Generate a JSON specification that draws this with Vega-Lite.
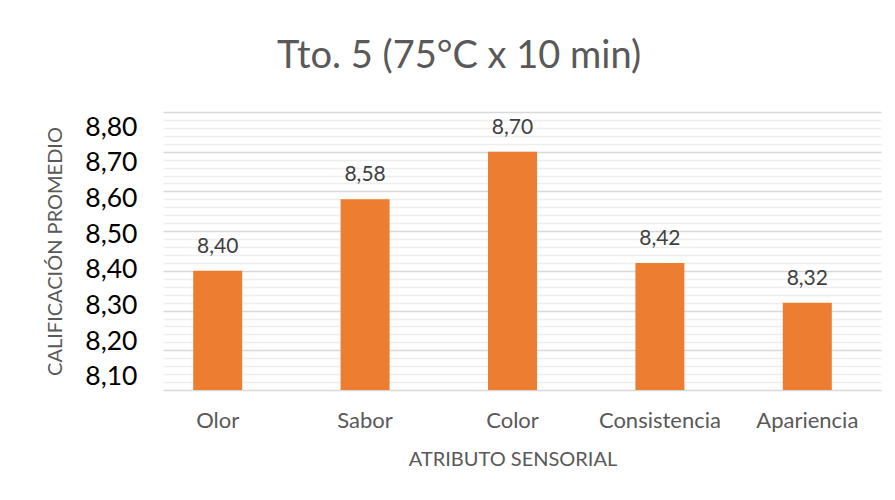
{
  "$schema": "https://vega.github.io/schema/vega-lite/v6.json",
  "width": 718,
  "height": 278,
  "autosize": {"type": "none"},
  "padding": {"left": 163, "top": 112, "right": 14, "bottom": 110},
  "background": "white",
  "config": {
    "font": "Lato",
    "view": {"stroke": null},
    "locale": {"number": {"decimal": ",", "thousands": ".", "grouping": [3], "currency": ["", " €"]}}
  },
  "title": {
    "text": "Tto. 5 (75°C x 10 min)",
    "fontSize": 38,
    "font": "Lato",
    "fontWeight": "normal",
    "color": "#595959",
    "anchor": "middle",
    "baseline": "alphabetic",
    "dx": -63,
    "offset": 6
  },
  "data": {
    "values": [
      {"atributo": "Olor", "calificacion": 8.40},
      {"atributo": "Sabor", "calificacion": 8.58},
      {"atributo": "Color", "calificacion": 8.70},
      {"atributo": "Consistencia", "calificacion": 8.42},
      {"atributo": "Apariencia", "calificacion": 8.32}
    ]
  },
  "layer": [
    {
      "mark": {"type": "point", "opacity": 0},
      "encoding": {
        "y": {
          "field": "calificacion",
          "type": "quantitative",
          "scale": {"domain": [8.1, 8.8], "nice": false, "zero": false},
          "axis": {
            "orient": "left",
            "values": [8.12, 8.14, 8.16, 8.18, 8.22, 8.24, 8.26, 8.28, 8.32, 8.34, 8.36, 8.38, 8.42, 8.44, 8.46, 8.48, 8.52, 8.54, 8.56, 8.58, 8.62, 8.64, 8.66, 8.68, 8.72, 8.74, 8.76, 8.78],
            "labels": false,
            "ticks": false,
            "domain": false,
            "title": null,
            "grid": true,
            "gridColor": "#eeeeee",
            "gridWidth": 1.3
          }
        }
      }
    },
    {
      "mark": {"type": "point", "opacity": 0},
      "encoding": {
        "y": {
          "field": "calificacion",
          "type": "quantitative",
          "scale": {"domain": [8.1, 8.8], "nice": false, "zero": false},
          "axis": {
            "orient": "left",
            "values": [8.1, 8.2, 8.3, 8.4, 8.5, 8.6, 8.7, 8.8],
            "labels": false,
            "ticks": false,
            "domain": false,
            "title": null,
            "grid": true,
            "gridColor": "#d9d9d9",
            "gridWidth": 1.6
          }
        }
      }
    },
    {
      "layer": [
        {
          "mark": {"type": "bar", "color": "#ED7D31", "width": 49, "clip": true},
          "encoding": {
            "x": {
              "field": "atributo",
              "type": "nominal",
              "sort": null,
              "scale": {"range": [-19, 718], "paddingInner": 0, "paddingOuter": 0},
              "axis": {
                "title": "ATRIBUTO SENSORIAL",
                "labelAngle": 0,
                "labelAlign": "center",
                "labelBaseline": "top",
                "labelFontSize": 22,
                "labelColor": "#595959",
                "labelPadding": 20,
                "ticks": false,
                "domain": false,
                "grid": false,
                "titleFontSize": 20,
                "titleColor": "#595959",
                "titleFontWeight": "normal",
                "titlePadding": 18
              }
            },
            "y": {
              "field": "calificacion",
              "type": "quantitative",
              "scale": {"domain": [8.1, 8.8], "nice": false, "zero": false},
              "axis": null
            }
          }
        },
        {
          "mark": {"type": "text", "baseline": "alphabetic", "dy": -18, "fontSize": 21, "color": "#404040"},
          "encoding": {
            "x": {"field": "atributo", "type": "nominal", "sort": null},
            "y": {"field": "calificacion", "type": "quantitative"},
            "text": {"field": "calificacion", "type": "quantitative", "format": ".2f"}
          }
        }
      ]
    },
    {
      "mark": {"type": "point", "opacity": 0},
      "encoding": {
        "y": {
          "field": "calificacion",
          "type": "quantitative",
          "scale": {"domain": [8.0627, 8.8426], "nice": false, "zero": false},
          "axis": {
            "orient": "left",
            "values": [8.1, 8.2, 8.3, 8.4, 8.5, 8.6, 8.7, 8.8],
            "format": ".2f",
            "labelFontSize": 26.5,
            "labelColor": "#000000",
            "labelPadding": 26,
            "ticks": false,
            "domain": false,
            "grid": false,
            "title": "CALIFICACIÓN PROMEDIO",
            "titleFontSize": 20,
            "titleColor": "#595959",
            "titleFontWeight": "normal",
            "titlePadding": 19
          }
        }
      }
    }
  ],
  "resolve": {"scale": {"y": "independent"}, "axis": {"y": "independent"}}
}
